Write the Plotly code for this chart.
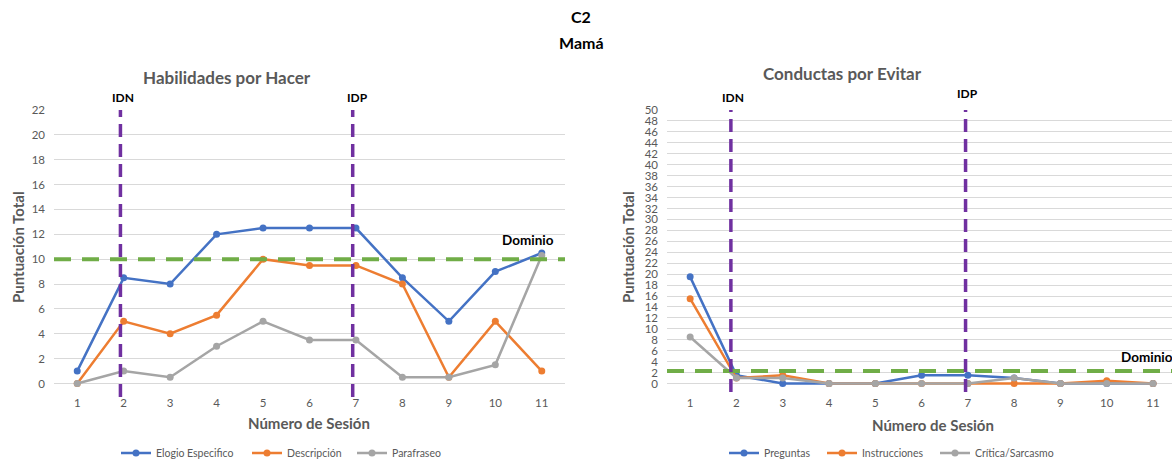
import plotly.graph_objects as go

# Sesiones
sesiones = list(range(1, 12))

# Habilidades por Hacer
elogio = [1, 8.5, 8, 12, 12.5, 12.5, 12.5, 8.5, 5, 9, 10.5]
descripcion = [0, 5, 4, 5.5, 10, 9.5, 9.5, 8, 0.5, 5, 1]
parafraseo = [0, 1, 0.5, 3, 5, 3.5, 3.5, 0.5, 0.5, 1.5, 10.3]

# Conductas por Evitar
preguntas = [19.5, 1.5, 0, 0, 0, 1.5, 1.5, 1, 0, 0, 0]
instrucciones = [15.5, 1, 1.5, 0, 0, 0, 0, 0, 0, 0.5, 0]
critica = [8.5, 1, 1, 0, 0, 0, 0, 1, 0, 0, 0]

# Fases y criterios
fase_idn = 1.93
fase_idp = 6.93
fase_idn_r = 1.88
fase_idp_r = 6.95
dominio_hacer = 10
dominio_evitar = 2.3

AZUL = "#4472C4"
NARANJA = "#ED7D31"
GRIS = "#A5A5A5"
MORADO = "#7030A0"
VERDE = "#70AD47"
TXT = "#595959"
FONT = "Lato"

W, H = 1172, 468


def py(pix):
    return (H - pix) / H


def px(pix):
    return pix / W


fig = go.Figure()

# (nombre, valores, color, posición de la leyenda)
series_izq = [("Elogio Especifico", elogio, AZUL, 116), ("Descripción", descripcion, NARANJA, 247),
              ("Parafraseo", parafraseo, GRIS, 352)]
series_der = [("Preguntas", preguntas, AZUL, 724), ("Instrucciones", instrucciones, NARANJA, 822),
              ("Crítica/Sarcasmo", critica, GRIS, 935)]

legend_layout = {}
n = 0
for axes, series in (("x", series_izq), ("x2", series_der)):
    ya = "y" if axes == "x" else "y2"
    for name, vals, col, lx in series:
        n += 1
        lg = "legend" if n == 1 else f"legend{n}"
        fig.add_trace(go.Scatter(x=sesiones, y=vals, name=name, mode="lines+markers",
                                 line=dict(color=col, width=2.5), marker=dict(color=col, size=7),
                                 xaxis=axes, yaxis=ya, legend=lg, cliponaxis=False))
        legend_layout[lg] = dict(orientation="h", x=px(lx), y=py(453), yanchor="middle", xanchor="left",
                                 font=dict(family=FONT, size=10.5, color=TXT), bgcolor="rgba(0,0,0,0)")

ydom = [py(385), py(110)]
tickfont = dict(family=FONT, size=11.5, color=TXT)
common_y = dict(showline=False, zeroline=False, gridcolor="#D9D9D9", gridwidth=1,
                tickfont=tickfont, ticks="", ticklabelstandoff=8)
common_x = dict(showline=False, zeroline=False, showgrid=False, tickfont=tickfont,
                tickvals=sesiones, ticks="", ticklabelstandoff=9)

fig.update_layout(
    width=W, height=H, margin=dict(l=0, r=0, t=0, b=0, autoexpand=False),
    paper_bgcolor="white", plot_bgcolor="white",
    font=dict(family=FONT, color=TXT),
    xaxis=dict(domain=[px(54), px(565)], range=[0.5, 11.5], anchor="y", **common_x),
    yaxis=dict(domain=ydom, range=[-0.12, 22], tickvals=list(range(0, 23, 2)), anchor="x", **common_y),
    xaxis2=dict(domain=[px(667), 1.0], range=[0.5, 11.41], anchor="y2", **common_x),
    yaxis2=dict(domain=ydom, range=[-0.27, 50], tickvals=list(range(0, 51, 2)), anchor="x2", **common_y),
    showlegend=True,
    **legend_layout,
)

shapes = []
# criterio de dominio
shapes.append(dict(type="line", xref="x domain", yref="y", x0=0, x1=1, y0=dominio_hacer, y1=dominio_hacer,
                   line=dict(color=VERDE, width=4, dash="17px,11px")))
shapes.append(dict(type="line", xref="x2 domain", yref="y2", x0=0, x1=1, y0=dominio_evitar, y1=dominio_evitar,
                   line=dict(color=VERDE, width=4, dash="17px,11px")))
# cambios de fase
for xv in (fase_idn, fase_idp):
    shapes.append(dict(type="line", xref="x", yref="paper", x0=xv, x1=xv, y0=py(397), y1=py(110),
                       line=dict(color=MORADO, width=3.5, dash="13px,7px")))
for xv in (fase_idn_r, fase_idp_r):
    shapes.append(dict(type="line", xref="x2", yref="paper", x0=xv, x1=xv, y0=py(392), y1=py(110),
                       line=dict(color=MORADO, width=3.5, dash="13px,7px")))
fig.update_layout(shapes=shapes)

ann = []


def label(text, x, y, size=12, color="black", bold=True, xanchor="center", textangle=0):
    t = f"<b>{text}</b>" if bold else text
    ann.append(dict(text=t, x=x, y=y, xref="paper", yref="paper", showarrow=False,
                    xanchor=xanchor, yanchor="middle", textangle=textangle,
                    font=dict(family=FONT, size=size, color=color)))


label("C2", px(581), py(17), size=16)
label("Mamá", px(581), py(42), size=16)
label("Habilidades por Hacer", px(227), py(78), size=17, color=TXT)
label("Conductas por Evitar", px(842), py(73), size=17, color=TXT)
label("Puntuación Total", px(18), py(247), size=15, color=TXT, textangle=-90)
label("Puntuación Total", px(628), py(247), size=15, color=TXT, textangle=-90)
label("Número de Sesión", px(309), py(423), size=15, color=TXT)
label("Número de Sesión", px(933), py(425), size=15, color=TXT)
label("IDN", px(123), py(97), size=12)
label("IDP", px(357), py(97), size=12)
label("Dominio", px(528), py(240), size=13.5)
label("IDN", px(733), py(97), size=12)
label("IDP", px(967), py(94), size=12)
label("Dominio", px(1119), py(357), size=13.5, xanchor="left")
fig.update_layout(annotations=ann)

fig.write_html("out.html")
